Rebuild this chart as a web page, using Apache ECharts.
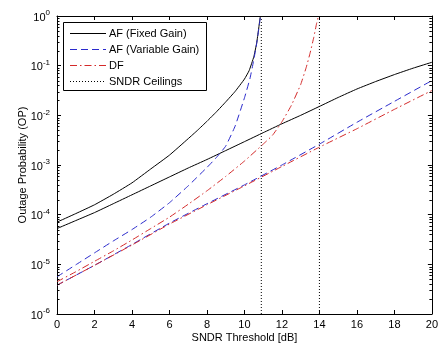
<!DOCTYPE html>
<html>
<head>
<meta charset="utf-8">
<script src="https://cdn.jsdelivr.net/npm/echarts@6/dist/echarts.min.js"></script>
<style>html,body{margin:0;padding:0;background:#fff;}#c{width:441px;height:349px;}</style>
</head>
<body>
<div id="c"></div>
<script>
// ---- data ----
const seriesNames = ['AF (Fixed Gain)', 'AF (Variable Gain)', 'DF', 'SNDR Ceilings'];
const xTicks = [0, 2, 4, 6, 8, 10, 12, 14, 16, 18, 20];

// AF fixed gain, with ceiling (black solid, upper)
const afFixedCeilX = [0,1,2,3,4,5,6,7,7.5,8,8.5,9,9.5,10,10.25,10.5,10.65,10.75,10.82,10.85];
const afFixedCeilY = [7.08e-5,1.05e-4,1.58e-4,2.57e-4,4.37e-4,8.32e-4,1.58e-3,3.39e-3,5.01e-3,7.59e-3,1.17e-2,1.86e-2,3.02e-2,5.37e-2,7.94e-2,0.151,0.282,0.525,0.832,1];

// AF fixed gain, no ceiling (black solid, lower)
const afFixedX = [0,1,2,3,4,5,6,7,8,9,10,11,12,13,14,15,16,17,18,19,20];
const afFixedY = [5.25e-5,7.6e-5,1.10e-4,1.66e-4,2.51e-4,3.80e-4,5.75e-4,8.7e-4,1.29e-3,1.95e-3,2.95e-3,4.47e-3,6.76e-3,1.0e-2,1.51e-2,2.29e-2,3.39e-2,4.79e-2,6.61e-2,8.91e-2,0.117];

// AF variable gain, with ceiling (blue dashed, upper)
const afVarCeilX = [0,1,2,3,4,5,6,7,8,8.5,9,9.5,10,10.3,10.5,10.65,10.75,10.82,10.87];
const afVarCeilY = [5.62e-6,9.77e-6,1.70e-5,2.95e-5,5.01e-5,8.91e-5,1.74e-4,3.80e-4,8.91e-4,1.41e-3,2.40e-3,6.03e-3,2.24e-2,5.62e-2,0.132,0.275,0.501,0.794,1];

// AF variable gain, no ceiling (blue dashed, lower)
const afVarX = [0,2,4,6,8,10,12,14,16,18,20];
const afVarY = [3.80e-6,9.55e-6,2.51e-5,6.76e-5,1.66e-4,3.98e-4,1.0e-3,2.63e-3,7.24e-3,1.91e-2,5.01e-2];

// DF, with ceiling (red dash-dot, upper)
const dfCeilX = [0,1,2,3,4,5,6,7,8,9,10,11,11.5,12,12.5,13,13.3,13.5,13.7,13.85,13.95];
const dfCeilY = [4.47e-6,7.08e-6,1.15e-5,1.86e-5,3.09e-5,5.25e-5,8.91e-5,1.62e-4,3.02e-4,5.89e-4,1.20e-3,2.63e-3,3.98e-3,7.41e-3,1.58e-2,4.17e-2,9.33e-2,0.178,0.372,0.708,1];

// DF, no ceiling (red dash-dot, lower)
const dfX = [0,2,4,6,8,10,12,14,16,18,20];
const dfY = [3.80e-6,9.55e-6,2.45e-5,6.46e-5,1.58e-4,3.80e-4,9.33e-4,2.29e-3,5.37e-3,1.32e-2,3.16e-2];

// SNDR ceilings (dotted vertical lines)
const ceilingX = [10.9, 14];

// log axis decades and minor multipliers
const decades = [1e-6, 1e-5, 1e-4, 1e-3, 1e-2, 1e-1];
const minorMult = [2, 3, 4, 5, 6, 7, 8, 9];

// ---- build ----
const FONT = "'Liberation Sans', Arial, Helvetica, sans-serif";
const BLACK = '#000000', BLUE = '#2a2acc', RED = '#d42a2a';
const DASH = [7, 4], DASHDOT = [7, 3, 1.5, 3], DOT = [1, 2];
const pair = (xs, ys) => xs.map((x, i) => [x, ys[i]]);

function lineSeries(name, xs, ys, color, type) {
  return {
    name, type: 'line', data: pair(xs, ys), symbol: 'none', showSymbol: false,
    lineStyle: { color, width: 1, type }, itemStyle: { color },
    smooth: 0.12, animation: false, z: 3
  };
}

const minorData = [];
decades.forEach(d => minorMult.forEach(m => minorData.push([0, d * m])));

const series = [
  lineSeries(seriesNames[0], afFixedCeilX, afFixedCeilY, BLACK, 'solid'),
  lineSeries(seriesNames[0], afFixedX, afFixedY, BLACK, 'solid'),
  lineSeries(seriesNames[1], afVarCeilX, afVarCeilY, BLUE, DASH),
  lineSeries(seriesNames[1], afVarX, afVarY, BLUE, DASH),
  lineSeries(seriesNames[2], dfCeilX, dfCeilY, RED, DASHDOT),
  lineSeries(seriesNames[2], dfX, dfY, RED, DASHDOT),
];
ceilingX.forEach(cx => {
  series.push({
    name: seriesNames[3], type: 'line', data: [[cx, 1e-6], [cx, 1]], symbol: 'none',
    lineStyle: { color: BLACK, width: 1, type: DOT }, itemStyle: { color: BLACK },
    animation: false, z: 2
  });
});
series.push({
  type: 'custom', silent: true, animation: false, clip: false, z: 5,
  data: minorData, encode: { x: 0, y: 1 },
  renderItem: function (params, api) {
    const v = api.value(1);
    const l = api.coord([0, v]);
    const r = api.coord([20, v]);
    const y = Math.round(l[1]) + 0.5;
    return {
      type: 'group', children: [
        { type: 'line', shape: { x1: l[0], y1: y, x2: l[0] + 2.5, y2: y }, style: { stroke: BLACK, lineWidth: 1 } },
        { type: 'line', shape: { x1: r[0] - 2.5, y1: y, x2: r[0], y2: y }, style: { stroke: BLACK, lineWidth: 1 } }
      ]
    };
  }
});

// legend drawn as graphic (box, line samples, real text)
const legendStyles = [
  { color: BLACK, dash: null },
  { color: BLUE, dash: DASH },
  { color: RED, dash: DASHDOT },
  { color: BLACK, dash: DOT }
];
const LG = { x: 63.5, y: 22.5, w: 143, h: 68, lineX1: 70, lineX2: 106, textX: 109, row0: 33.5, rowStep: 16 };
const legendGraphics = [{
  type: 'rect', z: 100,
  shape: { x: LG.x, y: LG.y, width: LG.w, height: LG.h },
  style: { fill: '#ffffff', stroke: BLACK, lineWidth: 1 }
}];
seriesNames.forEach((n, i) => {
  const yy = LG.row0 + i * LG.rowStep;
  legendGraphics.push({
    type: 'line', z: 101,
    shape: { x1: LG.lineX1, y1: yy, x2: LG.lineX2, y2: yy },
    style: { stroke: legendStyles[i].color, lineWidth: 1, lineDash: legendStyles[i].dash }
  });
  legendGraphics.push({
    type: 'text', z: 101, x: LG.textX, y: yy,
    style: { text: n, fill: BLACK, font: "11px " + FONT, verticalAlign: 'middle', align: 'left' }
  });
});

const axisCommon = {
  axisLine: { show: true, onZero: false, lineStyle: { color: BLACK, width: 1 } },
  axisTick: { show: true, inside: true, length: 4, lineStyle: { color: BLACK } },
  splitLine: { show: false }
};

const option = {
  backgroundColor: '#ffffff',
  animation: false,
  grid: { left: 57, right: 5, top: 16, bottom: 35, containLabel: false },
  graphic: legendGraphics,
  xAxis: [
    Object.assign({
      type: 'value', min: 0, max: 20, interval: 2,
      axisLabel: { color: BLACK, fontSize: 11, fontFamily: FONT, margin: 5,
        formatter: v => (xTicks.indexOf(v) >= 0 ? String(v) : '') },
      name: 'SNDR Threshold [dB]', nameLocation: 'middle', nameGap: 18, nameMoveOverlap: false,
      nameTextStyle: { color: BLACK, fontSize: 11, fontFamily: FONT }
    }, axisCommon),
    Object.assign({
      type: 'value', position: 'top', min: 0, max: 20, interval: 2,
      axisLabel: { show: false }
    }, axisCommon)
  ],
  yAxis: [
    Object.assign({
      type: 'log', logBase: 10, min: 1e-6, max: 1, interval: 1,
      axisLabel: {
        color: BLACK, fontFamily: FONT, margin: 7, showMinLabel: true, showMaxLabel: true,
        formatter: v => '{b|10}{s|' + Math.round(Math.log10(v)) + '}',
        rich: {
          b: { fontSize: 11, color: BLACK, fontFamily: FONT, verticalAlign: 'bottom', lineHeight: 14 },
          s: { fontSize: 8, color: BLACK, fontFamily: FONT, verticalAlign: 'top', lineHeight: 14, padding: [0, 0, 6, 0] }
        }
      },
      name: 'Outage Probability (OP)', nameLocation: 'middle', nameGap: 29, nameRotate: 90,
      nameMoveOverlap: false,
      nameTextStyle: { color: BLACK, fontSize: 11, fontFamily: FONT }
    }, axisCommon),
    Object.assign({
      type: 'log', logBase: 10, min: 1e-6, max: 1, interval: 1, position: 'right',
      axisLabel: { show: false }
    }, axisCommon)
  ],
  series
};

const chart = echarts.init(document.getElementById('c'), null, { renderer: 'canvas' });
chart.setOption(option);
</script>
</body>
</html>
